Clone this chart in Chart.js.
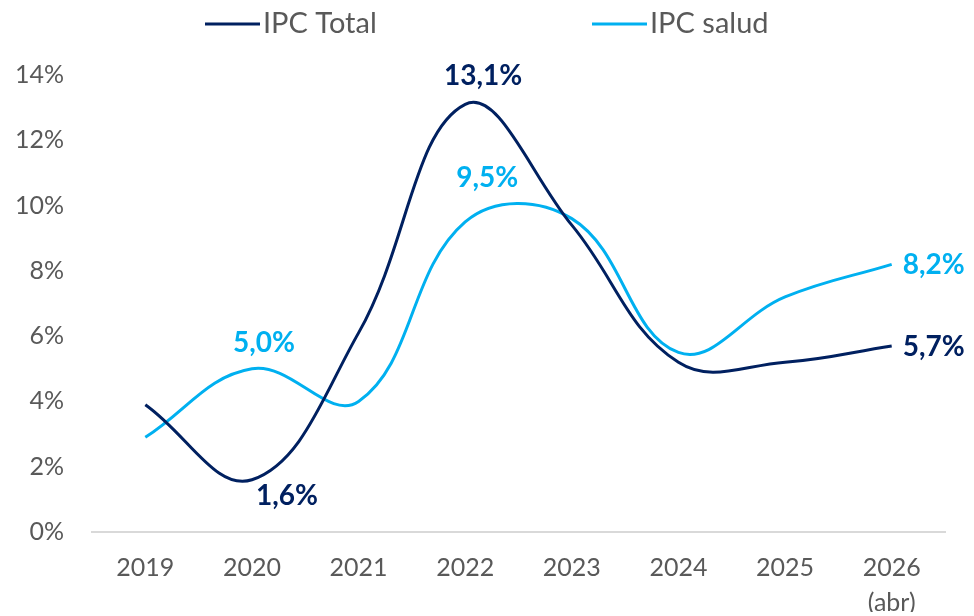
<!DOCTYPE html>
<html>
<head>
<meta charset="utf-8">
<script src="https://cdn.jsdelivr.net/npm/chart.js@4/dist/chart.umd.min.js"></script>
<style>
  html, body { margin: 0; padding: 0; background: #ffffff; }
  #wrap { width: 974px; height: 616px; position: relative; }
</style>
</head>
<body>
<div id="wrap"><canvas id="c" width="974" height="616"></canvas></div>
<script>
// ---- Data ----
const categories = ['2019', '2020', '2021', '2022', '2023', '2024', '2025', ['2026', '(abr)']];
const ipcTotal = [3.9, 1.6, 6.1, 13.1, 9.4, 5.2, 5.2, 5.7];
const ipcSalud = [2.9, 5.0, 4.0, 9.5, 9.6, 5.5, 7.2, 8.2];
const seriesNames = ['IPC Total', 'IPC salud'];
const yTicks = [0, 2, 4, 6, 8, 10, 12, 14];

// ---- Styles ----
const colTotal = '#002060';
const colSalud = '#00B0F0';
const textGray = '#595959';
const FONT = 'Lato, "Open Sans", sans-serif';

// data label specs: dataset index, point index, offset, alignment
const labelSpecs = [
  { ds: 0, i: 1, dx: 35, dy: 16, align: 'center' },
  { ds: 0, i: 3, dx: 18, dy: -28, align: 'center' },
  { ds: 0, i: 7, dx: 11, dy: 1, align: 'left' },
  { ds: 1, i: 1, dx: 12, dy: -26, align: 'center' },
  { ds: 1, i: 3, dx: 22, dy: -44, align: 'center' },
  { ds: 1, i: 7, dx: 11, dy: 1, align: 'left' }
];

// legend layout: item start x positions and y
const legendItems = [
  { ds: 0, x: 205 },
  { ds: 1, x: 592 }
];
const legendY = 24;
const legendLineLen = 55;

const dataLabelPlugin = {
  id: 'dataLabels',
  afterDatasetsDraw(chart) {
    const ctx = chart.ctx;
    ctx.save();
    ctx.font = 'bold 28px ' + FONT;
    ctx.textBaseline = 'middle';
    labelSpecs.forEach(s => {
      const meta = chart.getDatasetMeta(s.ds);
      const pt = meta.data[s.i];
      const v = chart.data.datasets[s.ds].data[s.i];
      const txt = v.toFixed(1).replace('.', ',') + '%';
      ctx.fillStyle = chart.data.datasets[s.ds].borderColor;
      ctx.textAlign = s.align;
      ctx.fillText(txt, pt.x + s.dx, pt.y + s.dy);
    });
    ctx.restore();
  }
};

const legendPlugin = {
  id: 'customLegend',
  afterDraw(chart) {
    const ctx = chart.ctx;
    ctx.save();
    ctx.font = '29px ' + FONT;
    ctx.textBaseline = 'middle';
    ctx.textAlign = 'left';
    legendItems.forEach(it => {
      const ds = chart.data.datasets[it.ds];
      ctx.strokeStyle = ds.borderColor;
      ctx.lineWidth = 3;
      ctx.beginPath();
      ctx.moveTo(it.x, legendY);
      ctx.lineTo(it.x + legendLineLen, legendY);
      ctx.stroke();
      ctx.fillStyle = textGray;
      ctx.fillText(ds.label, it.x + legendLineLen + 3, legendY);
    });
    ctx.restore();
  }
};

new Chart(document.getElementById('c'), {
  type: 'line',
  data: {
    labels: categories,
    datasets: [
      { label: seriesNames[0], data: ipcTotal, borderColor: colTotal, backgroundColor: colTotal,
        borderWidth: 3, pointRadius: 0, tension: 0.4, fill: false },
      { label: seriesNames[1], data: ipcSalud, borderColor: colSalud, backgroundColor: colSalud,
        borderWidth: 3, pointRadius: 0, tension: 0.4, fill: false }
    ]
  },
  options: {
    responsive: false,
    animation: false,
    layout: { padding: { top: 75, left: 14, right: 29, bottom: 4 } },
    plugins: {
      legend: { display: false },
      tooltip: { enabled: false }
    },
    scales: {
      x: {
        type: 'category',
        offset: true,
        afterFit: (scale) => { scale.height = 80; },
        grid: { display: false, drawTicks: false },
        border: { display: true, color: '#d9d9d9', width: 2 },
        ticks: { color: textGray, font: { family: FONT, size: 25, lineHeight: 1.4 }, padding: 18, maxRotation: 0, autoSkip: false }
      },
      y: {
        min: 0, max: 14,
        afterBuildTicks: (scale) => { scale.ticks = yTicks.map(v => ({ value: v })); },
        afterFit: (scale) => { scale.width = 78; },
        grid: { display: false, drawTicks: false },
        border: { display: false },
        ticks: { color: textGray, font: { family: FONT, size: 25 }, padding: 28, autoSkip: false, callback: (v) => v + '%' }
      }
    }
  },
  plugins: [dataLabelPlugin, legendPlugin]
});
</script>
</body>
</html>
